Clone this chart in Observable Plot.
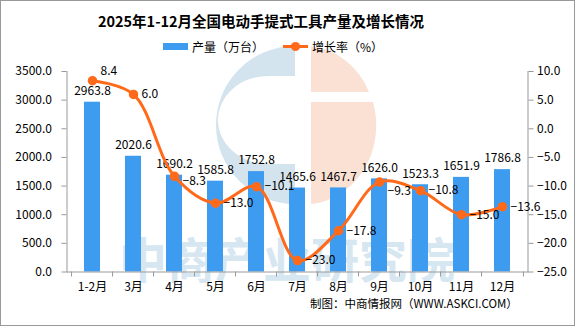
<!DOCTYPE html>
<html><head><meta charset="utf-8">
<script src="https://cdn.jsdelivr.net/npm/d3@7"></script>
<script src="https://cdn.jsdelivr.net/npm/@observablehq/plot@0.6"></script>
<style>
body{margin:0;background:#fff;}
#wrap{position:relative;width:575px;height:326px;overflow:hidden;font-family:"Noto Sans CJK SC","Noto Sans",sans-serif;color:#000;}
#border{position:absolute;left:0;top:0;width:573px;height:324px;border:1px solid #999;pointer-events:none;z-index:5;}
#wm{position:absolute;left:0;top:0;z-index:0;}
#chart{position:absolute;left:0;top:0;z-index:1;}
#title{position:absolute;left:0;width:522px;top:10px;text-align:center;font-size:14.5px;font-weight:bold;z-index:2;}
#legend{position:absolute;top:38px;left:163px;font-size:12px;z-index:2;display:flex;align-items:center;}
#caption{position:absolute;top:295px;left:310px;font-size:11.5px;z-index:2;}
</style></head>
<body>
<div id="wrap">
<svg id="wm" width="575" height="326">
  <path d="M295,46 A79,79 0 0 0 295,204 Z M295,76 L268,76 A50,44 0 0 0 268,164 L295,164 Z" fill="#d4e4ee" fill-rule="evenodd"/>
  <path d="M311,46 A72,79 0 0 1 369,92 L311,92 Z M311,102 L373,102 A72,79 0 0 1 311,204 Z" fill="#fbe0d4"/>
  <text x="287" y="278" text-anchor="middle" font-size="48" font-weight="bold" fill="#d6e7f2" font-family="Noto Sans CJK SC">中商产业研究院</text>
</svg>
<div id="chart"></div>
<div id="title">2025年1-12月全国电动手提式工具产量及增长情况</div>
<div id="legend">
  <span style="display:inline-block;width:25px;height:7px;background:#3e9cf0;margin-right:4px"></span><span>产量（万台）</span>
  <span style="display:inline-block;width:25px;height:3px;background:#ff6a1a;margin-left:19px;margin-right:4px;position:relative"><span style="position:absolute;left:8px;top:-3px;width:9px;height:9px;border-radius:50%;background:#ff6a1a"></span></span><span>增长率（%）</span>
</div>
<div id="caption">制图：中商情报网（WWW.ASKCI.COM）</div>
<div id="border"></div>
</div>
<script>
const months = ["1-2月","3月","4月","5月","6月","7月","8月","9月","10月","11月","12月"];
const output = [2963.8,2020.6,1690.2,1585.8,1752.8,1465.6,1467.7,1626.0,1523.3,1651.9,1786.8];
const growth = [8.4,6.0,-8.3,-13.0,-10.1,-23.0,-17.8,-9.3,-10.8,-15.0,-13.6];
const leftTicks = [0,500,1000,1500,2000,2500,3000,3500];
const rightTicks = [-25,-20,-15,-10,-5,0,5,10];

const data = months.map((m,i)=>({month:m, output:output[i], growth:growth[i], i}));
const gMin = -25, gMax = 10, yMax = 3500;
const toLeft = g => (g - gMin) / (gMax - gMin) * yMax;
const fromLeft = v => v / yMax * (gMax - gMin) + gMin;
const fmt = v => v.toFixed(1).replace("-", "−");

const W = 575, H = 326, mL = 66.5, mR = 47.5, mT = 71, mB = 54.5;
const step = (W - mL - mR) / months.length;
const font = '"Noto Sans CJK SC","Noto Sans",sans-serif';
const axisColor = "#999";
const orange = "#ff6a1a";

const special = {"8.4": {dx: 8, dy: -10}, "-9.3": {dx: 8, dy: 9}, "-8.3": {dx: 8, dy: 5}};

const chart = Plot.plot({
  width: W, height: H,
  marginTop: mT, marginBottom: mB, marginLeft: mL, marginRight: mR,
  style: {fontFamily: font, fontSize: "12px", background: "transparent", color: "#000"},
  x: {domain: months, paddingInner: 0.62, paddingOuter: 0.31, label: null},
  y: {domain: [0, yMax], label: null},
  marks: [
    Plot.barY(data, {x: "month", y: "output", fill: "#3e9cf0"}),
    Plot.frame({anchor: "left", stroke: axisColor}),
    Plot.frame({anchor: "right", stroke: axisColor}),
    Plot.frame({anchor: "bottom", stroke: axisColor}),
    Plot.axisY({ticks: leftTicks, tickFormat: d => fmt(d), anchor: "left", tickSize: 5, tickPadding: 10, stroke: axisColor, color: "#000", label: null, fontSize: 12}),
    Plot.axisY({ticks: rightTicks.map(toLeft), tickFormat: d => fmt(Math.round(fromLeft(d) * 10) / 10), anchor: "right", tickSize: 5, tickPadding: 4, stroke: axisColor, label: null, fontSize: 12}),
    Plot.axisX({tickSize: 0, tickPadding: 10, label: null, fontSize: 12}),
    Plot.ruleX(data, {x: "month", y1: 0, y2: -5 * yMax / (H - mT - mB), dx: -step / 2, stroke: axisColor}),
    Plot.ruleX(data.slice(-1), {x: "month", y1: 0, y2: -5 * yMax / (H - mT - mB), dx: step / 2, stroke: axisColor}),
    Plot.text(data, {x: "month", y: "output", text: d => d.output.toFixed(1), dy: -11, fill: "#000", fontSize: 12}),
    Plot.line(data, {x: "month", y: d => toLeft(d.growth), stroke: orange, strokeWidth: 3, curve: "catmull-rom"}),
    Plot.dot(data, {x: "month", y: d => toLeft(d.growth), r: 4, fill: orange, stroke: orange}),
    Plot.text(data.filter(d => !special[String(d.growth)]), {x: "month", y: d => toLeft(d.growth), text: d => fmt(d.growth), textAnchor: "start", dx: 8, fill: "#000", fontSize: 12}),
    ...Object.entries(special).map(([k, o]) =>
      Plot.text(data.filter(d => String(d.growth) === k), {x: "month", y: d => toLeft(d.growth), text: d => fmt(d.growth), textAnchor: "start", dx: o.dx, dy: o.dy, fill: "#000", fontSize: 12}))
  ]
});
document.getElementById("chart").appendChild(chart);
</script>
</body></html>
